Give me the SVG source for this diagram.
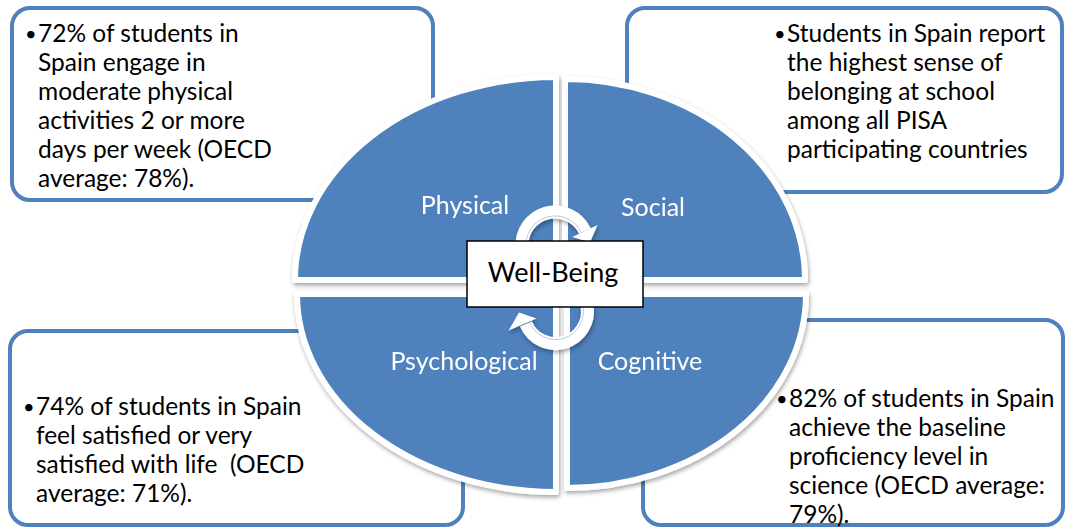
<svg xmlns="http://www.w3.org/2000/svg" width="1065" height="528" viewBox="0 0 1065 528">
  <defs>
    <style>
      .box { fill: #ffffff; stroke: #4F81BD; stroke-width: 4; }
      .txt { font-family: Lato, "Liberation Sans", sans-serif; font-size: 24.5px; fill: #000000; white-space: pre; }
      .bul { font-family: Lato, "Liberation Sans", sans-serif; font-size: 20px; fill: #000000; }
      .quad { fill: #4F81BD; stroke: #ffffff; stroke-width: 6; stroke-linejoin: round; }
      .lbl { font-family: Lato, "Liberation Sans", sans-serif; font-size: 25px; fill: #ffffff; text-anchor: middle; }
      .arc { fill: none; stroke: #ffffff; stroke-width: 13; }
      .arcline { fill: none; stroke: #B9CDE5; stroke-width: 1; }
      .head { fill: #ffffff; }
      .center { fill: #ffffff; stroke: #000000; stroke-width: 1.5; }
      .ctxt { font-family: Lato, "Liberation Sans", sans-serif; font-size: 27px; fill: #000000; text-anchor: middle; }
    </style>
    <filter id="shadow" x="-10%" y="-10%" width="120%" height="125%">
      <feDropShadow dx="1" dy="2.5" stdDeviation="2" flood-color="#000000" flood-opacity="0.35"/>
    </filter>
  </defs>

  <g id="box-physical">
    <rect class="box" x="12" y="8" width="421" height="192" rx="18"/>
    <text class="bul" x="25" y="41">•</text>
    <text class="txt" x="38" y="42">72% of students in</text>
    <text class="txt" x="38" y="71">Spain engage in</text>
    <text class="txt" x="38" y="100">moderate physical</text>
    <text class="txt" x="38" y="129">activities 2 or more</text>
    <text class="txt" x="38" y="158">days per week (OECD</text>
    <text class="txt" x="38" y="187">average: 78%).</text>
  </g>

  <g id="box-social">
    <rect class="box" x="627" y="8" width="435" height="184" rx="18"/>
    <text class="bul" x="774" y="41">•</text>
    <text class="txt" x="787" y="42">Students in Spain report</text>
    <text class="txt" x="787" y="71">the highest sense of</text>
    <text class="txt" x="787" y="100">belonging at school</text>
    <text class="txt" x="787" y="129">among all PISA</text>
    <text class="txt" x="787" y="158">participating countries</text>
  </g>

  <g id="box-psychological">
    <rect class="box" x="10" y="331" width="453" height="194" rx="18"/>
    <text class="bul" x="23" y="414">•</text>
    <text class="txt" x="36" y="415">74% of students in Spain</text>
    <text class="txt" x="36" y="444">feel satisfied or very</text>
    <text class="txt" x="36" y="473">satisfied with life  (OECD</text>
    <text class="txt" x="36" y="502">average: 71%).</text>
  </g>

  <g id="box-cognitive">
    <rect class="box" x="643" y="320" width="420" height="205" rx="18"/>
    <text class="bul" x="776" y="406">•</text>
    <text class="txt" x="789" y="407">82% of students in Spain</text>
    <text class="txt" x="789" y="436">achieve the baseline</text>
    <text class="txt" x="789" y="465">proficiency level in</text>
    <text class="txt" x="789" y="494">science (OECD average:</text>
    <text class="txt" x="789" y="523">79%).</text>
  </g>

  <g id="quad-physical" filter="url(#shadow)">
    <path class="quad" d="M556,280 L295,280 A261,203 0 0 1 556,77 Z"/>
    <text class="lbl" x="465" y="214">Physical</text>
  </g>
  <g id="quad-social" filter="url(#shadow)">
    <path class="quad" d="M565,280 L565,79 A240,201 0 0 1 805,280 Z"/>
    <text class="lbl" x="653" y="216">Social</text>
  </g>
  <g id="quad-psychological" filter="url(#shadow)">
    <path class="quad" d="M556,294 L556,492 A259,198 0 0 1 297,294 Z"/>
    <text class="lbl" x="464" y="370">Psychological</text>
  </g>
  <g id="quad-cognitive" filter="url(#shadow)">
    <path class="quad" d="M567,294 L806,294 A239,194 0 0 1 567,488 Z"/>
    <text class="lbl" x="650" y="370">Cognitive</text>
  </g>

  <g id="connectors" filter="url(#shadow)">
    <path class="arc" d="M522.1,247.9 A33,33 0 0 1 584.9,231.1"/>
    <polygon class="head" points="572.3,236.9 597.6,225.1 590.0,242.2"/>
    <path class="arcline" d="M526.1,247.5 A29,29 0 0 1 581.3,232.7"/>
    <path class="arc" d="M587,306 A32,32 0 0 1 526.0,324.0"/>
    <polygon class="head" points="536.4,318.5 508.6,330.5 519.0,312.4"/>
    <path class="arcline" d="M583,306.5 A28,28 0 0 1 529.6,322.3"/>
  </g>

  <g id="center-wellbeing">
    <rect class="center" x="467" y="241" width="176" height="66"/>
    <text class="ctxt" x="553" y="282">Well-Being</text>
  </g>
</svg>
